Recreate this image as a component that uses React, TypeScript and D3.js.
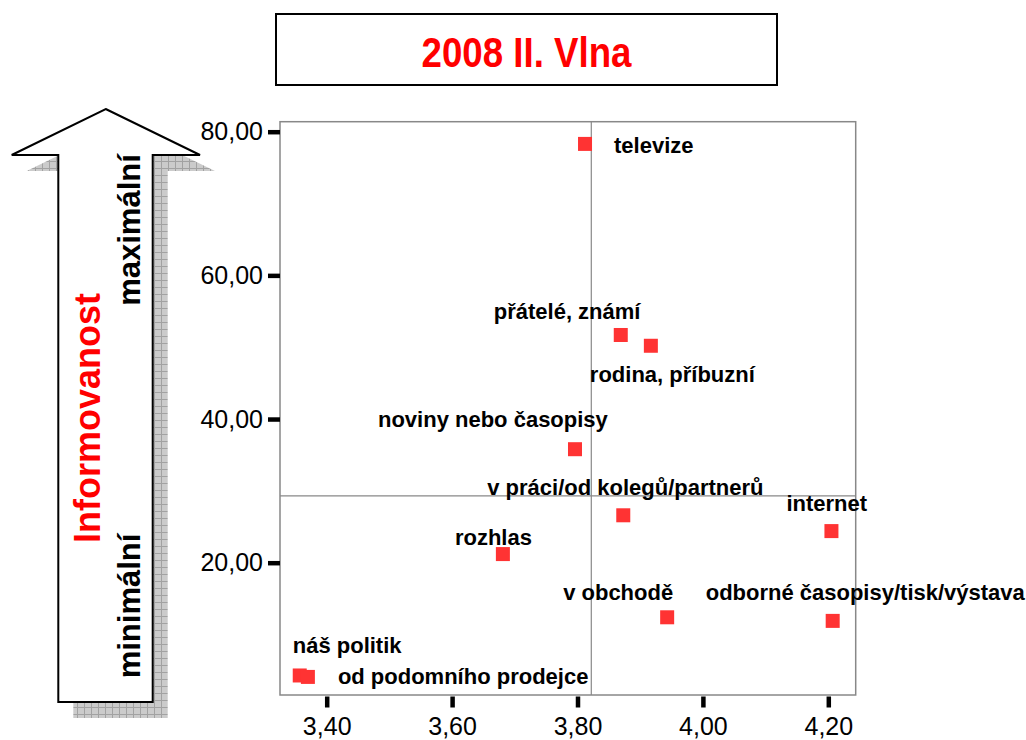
import * as React from 'react';
import * as d3 from 'd3';

// data
const categories = [
  'televize',
  'přátelé, známí',
  'rodina, příbuzní',
  'noviny nebo časopisy',
  'v práci/od kolegů/partnerů',
  'internet',
  'rozhlas',
  'v obchodě',
  'odborné časopisy/tisk/výstava',
  'náš politik',
  'od podomního prodejce',
];
const xValues = [3.812, 3.869, 3.917, 3.796, 3.873, 4.205, 3.681, 3.943, 4.207, 3.357, 3.370];
const yValues = [78.3, 51.7, 50.2, 35.8, 26.6, 24.4, 21.2, 12.4, 11.9, 4.3, 4.1];
const xTicks = [3.4, 3.6, 3.8, 4.0, 4.2];
const yTicks = [20, 40, 60, 80];
const refX = 3.822;
const refY = 29.3;

// label placement relative to the marker (px)
const labelOffsets: [number, number][] = [
  [29, 9], [-127, -16], [-61, 36], [-197, -22], [-136, -20], [-45, -20],
  [-48, -9], [-104, -17], [-127, -21], [-7, -22], [30, 7],
];

const W = 1026;
const H = 740;
const plot = { left: 280, right: 855.7, top: 121.7, bottom: 695 };
const FONT = '"Liberation Sans", Arial, sans-serif';

export default function App() {
  const ref = React.useRef<SVGSVGElement>(null);

  React.useEffect(() => {
    const svg = d3.select(ref.current);
    svg.selectAll('*').remove();

    const x = d3.scaleLinear().domain([3.4, 4.2]).range([326.7, 828.3]);
    const y = d3.scaleLinear().domain([20, 80]).range([562.7, 131.7]);
    const comma = (d: number) => d3.format('.2f')(d).replace('.', ',');

    const defs = svg.append('defs');
    const pat = defs.append('pattern')
      .attr('id', 'hatch').attr('width', 7).attr('height', 7)
      .attr('patternUnits', 'userSpaceOnUse');
    pat.append('rect').attr('width', 7).attr('height', 7).attr('fill', '#cbcbcb');
    pat.append('path').attr('d', 'M0,0.5H7M0.5,0V7').attr('stroke', '#a2a2a2').attr('stroke-width', 1);

    // title box
    svg.append('rect')
      .attr('x', 276).attr('y', 14).attr('width', 501).attr('height', 71)
      .attr('fill', '#fff').attr('stroke', '#000').attr('stroke-width', 2);
    svg.append('text')
      .attr('x', 526.5).attr('y', 66.5)
      .attr('text-anchor', 'middle')
      .attr('font-family', FONT).attr('font-weight', 'bold').attr('font-size', 42)
      .attr('fill', '#ff0000')
      .attr('textLength', 210).attr('lengthAdjust', 'spacingAndGlyphs')
      .text('2008 II. Vlna');

    // arrow on the left
    const arrow = [
      [105.7, 109], [200, 155], [152.7, 155], [152.7, 702],
      [58.3, 702], [58.3, 155], [11.7, 155],
    ];
    const line = d3.line();
    svg.append('path')
      .attr('d', line(arrow.map(([a, b]) => [a + 15, b + 16]) as [number, number][]) + 'Z')
      .attr('fill', 'url(#hatch)');
    svg.append('path')
      .attr('d', line(arrow as [number, number][]) + 'Z')
      .attr('fill', '#fff').attr('stroke', '#000').attr('stroke-width', 2);

    const vText = (tx: number, ty: number, txt: string, size: number, color: string) =>
      svg.append('text')
        .attr('transform', `translate(${tx},${ty}) rotate(-90)`)
        .attr('text-anchor', 'middle')
        .attr('font-family', FONT).attr('font-weight', 'bold').attr('font-size', size)
        .attr('fill', color)
        .text(txt);
    vText(100, 418, 'Informovanost', 36, '#ff0000');
    vText(140, 230, 'maximální', 31, '#000');
    vText(140, 606, 'minimální', 31, '#000');

    // plot frame + reference lines
    svg.append('rect')
      .attr('x', plot.left).attr('y', plot.top)
      .attr('width', plot.right - plot.left).attr('height', plot.bottom - plot.top)
      .attr('fill', 'none').attr('stroke', '#888').attr('stroke-width', 1.5);
    svg.append('line')
      .attr('x1', x(refX)).attr('x2', x(refX)).attr('y1', plot.top).attr('y2', plot.bottom)
      .attr('stroke', '#888').attr('stroke-width', 1.2);
    svg.append('line')
      .attr('x1', plot.left).attr('x2', plot.right).attr('y1', y(refY)).attr('y2', y(refY))
      .attr('stroke', '#888').attr('stroke-width', 1.2);

    // axes
    const gx = svg.append('g')
      .attr('transform', `translate(0,${plot.bottom + 1.5})`)
      .call(d3.axisBottom(x).tickValues(xTicks).tickFormat(comma as any).tickSize(11).tickPadding(10));
    const gy = svg.append('g')
      .attr('transform', `translate(${plot.left},0)`)
      .call(d3.axisLeft(y).tickValues(yTicks).tickFormat(comma as any).tickSize(12).tickPadding(5));
    [gx, gy].forEach((g) => {
      g.select('.domain').remove();
      g.selectAll('line').attr('stroke', '#000').attr('stroke-width', 4.5);
      g.selectAll('text')
        .attr('font-family', FONT).attr('font-size', 25).attr('fill', '#000');
    });

    // points
    const n = categories.length;
    const pts = d3.range(n);
    svg.append('g').selectAll('rect').data(pts).enter().append('rect')
      .attr('x', (i) => x(xValues[i]) - 7)
      .attr('y', (i) => y(yValues[i]) - 7)
      .attr('width', 14).attr('height', 14)
      .attr('fill', '#ff3333');

    svg.append('g').selectAll('text').data(pts).enter().append('text')
      .attr('x', (i) => x(xValues[i]) + labelOffsets[i][0])
      .attr('y', (i) => y(yValues[i]) + labelOffsets[i][1])
      .attr('font-family', FONT).attr('font-weight', 'bold').attr('font-size', 22)
      .attr('fill', '#000')
      .text((i) => categories[i]);
  }, []);

  return (
    <svg ref={ref} width={W} height={H}
      style={{ position: 'absolute', left: 0, top: 0, background: '#fff' }} />
  );
}
